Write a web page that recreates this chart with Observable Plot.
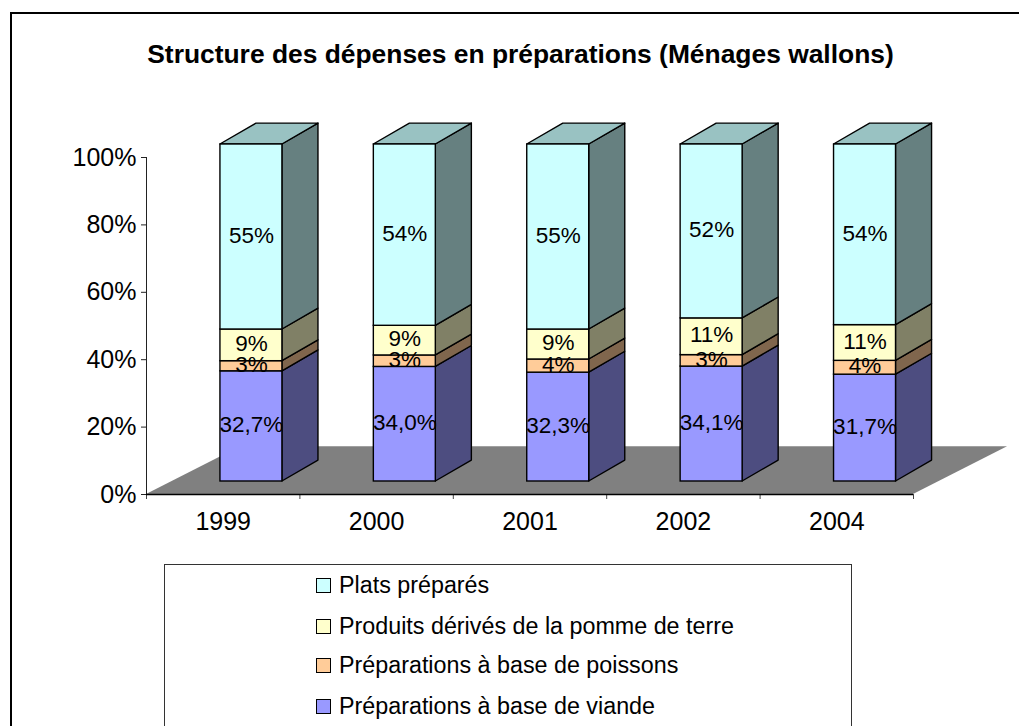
<!DOCTYPE html>
<html><head><meta charset="utf-8">
<script src="https://cdn.jsdelivr.net/npm/d3@7"></script>
<script src="https://cdn.jsdelivr.net/npm/@observablehq/plot@0.6"></script>
<style>
html,body{margin:0;padding:0;background:#fff;overflow:hidden}
#page{position:relative;width:1019px;height:726px;overflow:hidden;font-family:"Liberation Sans",Arial,sans-serif;color:#000}
#frame{position:absolute;left:10px;top:12px;width:1020px;height:730px;border:2px solid #000;box-sizing:border-box}
#title{position:absolute;left:0;width:1041px;top:38px;text-align:center;font-weight:bold;font-size:26.4px;line-height:32px;white-space:nowrap}
#chart{position:absolute;left:0;top:0}
#chart svg{background:transparent;overflow:visible}
#legend{position:absolute;left:164px;top:564px;width:688px;height:170px;border:1px solid #333;box-sizing:border-box;background:#fff}
.row{position:absolute;left:151px;display:flex;align-items:center;height:24px;font-size:23.3px;white-space:nowrap}
.sw{width:13px;height:13px;border:1.5px solid #000;margin-right:8px;flex:none}
</style></head><body>
<div id="page">
  <div id="frame"></div>
  <div id="title">Structure des dépenses en préparations (Ménages wallons)</div>
  <div id="chart"></div>
  <div id="legend"></div>
</div>
<script>
const years = ["1999","2000","2001","2002","2004"];
const viande = [32.7,34.0,32.3,34.1,31.7];
const poissons = [3.0,3.4,3.9,3.4,4.1];
const pomme = [9.4,8.8,8.9,10.9,10.6];
const plats = [54.9,53.8,54.9,51.6,53.6];

const series = [
  {name:"Préparations à base de viande", values:viande, front:"#9999ff", side:"#4d4d80", fmt:v=>v.toFixed(1).replace(".",",")+"%"},
  {name:"Préparations à base de poissons", values:poissons, front:"#ffcc99", side:"#80664d", fmt:v=>Math.round(v)+"%"},
  {name:"Produits dérivés de la pomme de terre", values:pomme, front:"#ffffcc", side:"#808066", fmt:v=>Math.round(v)+"%"},
  {name:"Plats préparés", values:plats, front:"#ccffff", side:"#668080", top:"#99c2c2", fmt:v=>Math.round(v)+"%"}
];

// 3-D projection, in scale units
const barLeft = 0.482, barWidth = 0.404;
const depthX = 0.235, depthY = 6.2, lift = 3.86;
const floorX = 0.613, floorY = 14.2;
const lw = 1.4;

const segs = [];
years.forEach((yr,i)=>{
  let c = 0;
  series.forEach((s,k)=>{
    const v = s.values[i];
    segs.push({i,k,s,v,x1:i+barLeft,x2:i+barLeft+barWidth,y1:c+lift,y2:c+v+lift,label:s.fmt(v)});
    c += v;
  });
});

const marks = [];
// floor
marks.push(Plot.area([{y:0,a:0,b:5},{y:floorY,a:floorX,b:5+floorX}],{y1:"y",x1:"a",x2:"b",fill:"#808080",curve:"linear"}));
// axes
marks.push(Plot.ruleX([0],{y1:0,y2:100,stroke:"#222",strokeWidth:1}));
marks.push(Plot.axisY({ticks:[0,20,40,60,80,100],tickFormat:d=>d+"%",tickSize:5,tickPadding:5,fontSize:25,label:null,stroke:"#222"}));
marks.push(Plot.axisX({ticks:[0,1,2,3,4,5],tickFormat:()=>"",tickSize:5,label:null,stroke:"#444"}));
marks.push(Plot.axisX({ticks:[0.5,1.5,2.5,3.5,4.5],tickFormat:t=>years[Math.floor(t)],tickSize:0,tickPadding:18,fontSize:25,label:null}));
marks.push(Plot.ruleY([0],{stroke:"#000",strokeWidth:1.5}));
// bars
for (const g of segs) {
  const side = [{x:g.x2,a:g.y1,b:g.y2},{x:g.x2+depthX,a:g.y1+depthY,b:g.y2+depthY}];
  marks.push(Plot.area(side,{x1:"x",y1:"a",y2:"b",fill:g.s.side,stroke:"#000",strokeWidth:lw,curve:"linear"}));
  if (g.s.top) {
    const top = [{y:g.y2,a:g.x1,b:g.x2},{y:g.y2+depthY,a:g.x1+depthX,b:g.x2+depthX}];
    marks.push(Plot.area(top,{y1:"y",x1:"a",x2:"b",fill:g.s.top,stroke:"#000",strokeWidth:lw,curve:"linear"}));
  }
  marks.push(Plot.rect([g],{x1:"x1",x2:"x2",y1:"y1",y2:"y2",fill:g.s.front,stroke:"#000",strokeWidth:lw}));
}
// labels
marks.push(Plot.text(segs,{x:d=>d.x1+barWidth/2,y:d=>(d.y1+d.y2)/2,text:"label",fontSize:22.5,dy:-1.5,fill:"#000",fontFamily:"Liberation Sans"}));

const chart = Plot.plot({
  width:1019,height:556,
  marginLeft:146,marginRight:106,marginTop:157,marginBottom:62,
  x:{domain:[0,5]},
  y:{domain:[0,100]},
  style:{fontFamily:"Liberation Sans, Arial, sans-serif",background:"transparent",color:"#000"},
  marks
});
document.getElementById("chart").appendChild(chart);

const rowTops = [572,613,652,693];
const legend = document.getElementById("legend");
[...series].reverse().forEach((s,i)=>{
  const r = document.createElement("div");
  r.className="row";
  r.style.top=(rowTops[i]-564)+"px";
  const b=document.createElement("span");b.className="sw";b.style.background=s.front;
  const t=document.createElement("span");t.textContent=s.name;
  r.append(b,t);legend.append(r);
});
</script>
</body></html>
